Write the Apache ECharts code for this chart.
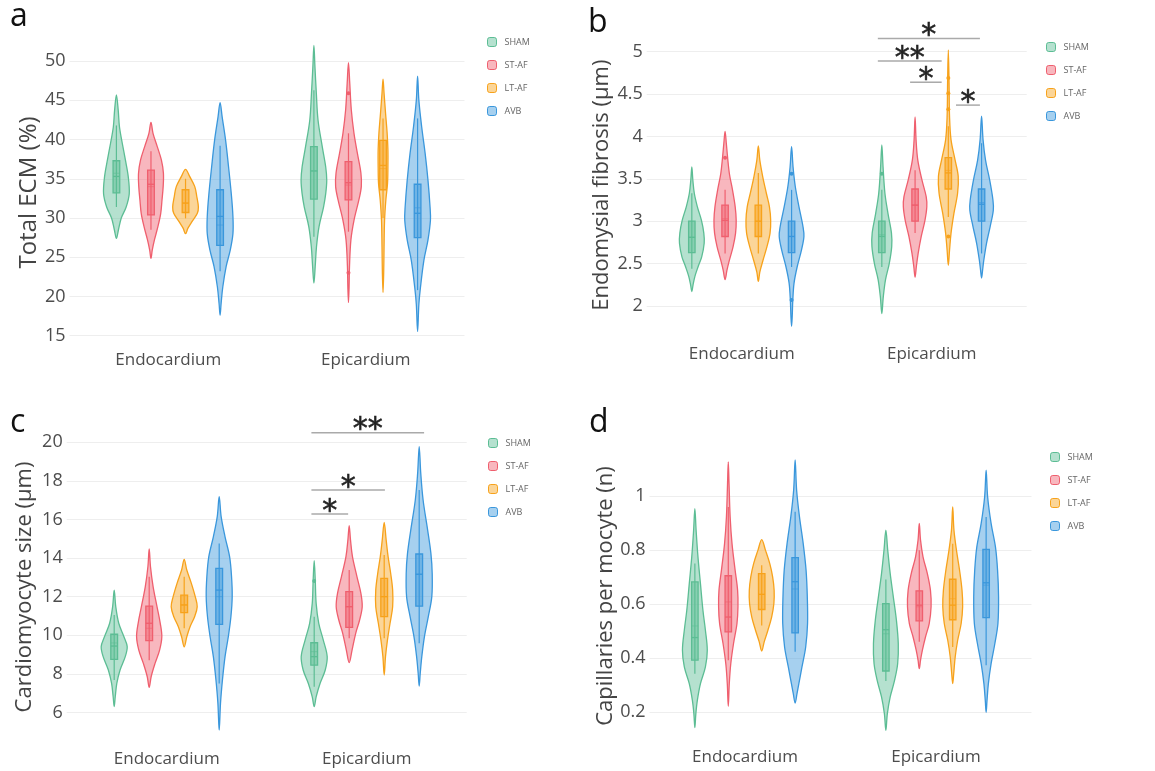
<!DOCTYPE html>
<html><head><meta charset="utf-8">
<script src="https://cdn.jsdelivr.net/npm/echarts@6/dist/echarts.min.js"></script>
<style>html,body{margin:0;padding:0;background:#fff}#chart{width:1155px;height:771px}</style>
</head><body><div id="chart"></div>
<script>
// ---------------- DATA ----------------
const categories = ['Endocardium', 'Epicardium'];
const groups = ['SHAM', 'ST-AF', 'LT-AF', 'AVB'];
const yTitles = ['Total ECM (%)', 'Endomysial fibrosis (µm)', 'Cardiomyocyte size (µm)', 'Capillaries per mocyte (n)'];
const panelLetters = ['a', 'b', 'c', 'd'];

// Violin outlines: [group][category] -> list of [value, relative density]
const ecmShape = [
  [[[45.7,0],[43.75,0.14],[41.6,0.24],[39.5,0.46],[37.4,0.7],[35.3,0.92],[33.1,1.0],[31.4,0.76],[30.0,0.38],[28.5,0.16],[27.4,0]],
   [[52.0,0],[49.3,0.08],[45.9,0.19],[42.5,0.32],[39.1,0.65],[36.5,0.92],[34.8,1.0],[33.1,0.92],[31.4,0.75],[28.9,0.4],[26.3,0.2],[23.8,0.1],[21.7,0]]],
  [[[42.2,0],[40.8,0.16],[39.1,0.49],[37.4,0.81],[35.7,0.97],[34.0,0.95],[32.3,0.86],[30.6,0.76],[28.9,0.54],[27.2,0.27],[25.9,0.1],[24.85,0]],
   [[49.8,0],[47.2,0.1],[43.8,0.22],[40.8,0.43],[38.2,0.7],[35.7,0.97],[34.0,1.0],[32.3,0.81],[29.7,0.43],[27.2,0.19],[23.8,0.08],[21.3,0.05],[19.2,0]]],
  [[[36.2,0],[35.3,0.32],[34.0,0.72],[32.7,0.88],[31.4,1.0],[30.6,0.92],[29.5,0.49],[28.7,0.19],[28.0,0]],
   [[47.7,0],[45.9,0.08],[43.3,0.2],[40.8,0.32],[38.7,0.38],[36.5,0.38],[34.4,0.35],[32.3,0.22],[29.7,0.12],[26.3,0.08],[22.9,0.05],[20.5,0]]],
  [[[44.7,0],[42.9,0.16],[39.9,0.43],[36.5,0.66],[33.1,0.87],[30.2,1.0],[28.0,1.0],[25.9,0.79],[23.8,0.47],[21.2,0.21],[19.1,0.08],[17.6,0]],
   [[48.1,0],[45.0,0.1],[41.6,0.32],[38.2,0.59],[34.8,0.81],[31.4,0.97],[29.7,1.0],[27.2,0.81],[24.6,0.49],[21.1,0.22],[19.0,0.1],[15.5,0]]]
];
// Box stats: [lower whisker, q1, median, q3, upper whisker, mean]
const ecmBox = [
  [[31.4,33.2,35.3,37.3,41.8,35.7],[27.6,32.4,36.0,39.1,46.3,36.0]],
  [[28.5,30.4,34.3,36.1,38.5,34.0],[28.25,32.3,34.5,37.2,40.8,34.2]],
  [[29.95,30.7,31.9,33.6,35.0,31.9],[30.0,33.6,36.7,39.9,42.7,36.3]],
  [[23.2,26.5,30.2,33.6,39.2,29.1],[20.8,27.5,30.6,34.3,42.7,31.3]]
];
const ecmOutliers = [[[],[]],[[],[45.9,23.0]],[[],[]],[[],[]]];

const fibrosisShape = [
  [[[3.64,0],[3.49,0.08],[3.33,0.2],[3.17,0.45],[3.01,0.78],[2.86,0.97],[2.74,1.0],[2.58,0.8],[2.46,0.5],[2.35,0.25],[2.25,0.1],[2.17,0]],
   [[3.90,0],[3.64,0.1],[3.33,0.25],[3.09,0.5],[2.86,0.78],[2.70,0.8],[2.50,0.6],[2.31,0.3],[2.11,0.12],[1.91,0]]],
  [[[4.06,0],[3.92,0.1],[3.76,0.2],[3.56,0.35],[3.37,0.6],[3.17,0.82],[3.01,0.9],[2.86,0.85],[2.70,0.65],[2.54,0.35],[2.42,0.15],[2.31,0]],
   [[4.23,0],[3.96,0.08],[3.72,0.22],[3.49,0.55],[3.29,0.9],[3.17,0.95],[3.01,0.8],[2.82,0.5],[2.62,0.25],[2.46,0.1],[2.34,0]]],
  [[[3.89,0],[3.72,0.12],[3.53,0.35],[3.33,0.65],[3.17,0.9],[3.01,1.0],[2.86,0.95],[2.70,0.7],[2.54,0.38],[2.40,0.12],[2.29,0]],
   [[5.02,0],[4.63,0.06],[4.23,0.1],[3.96,0.22],[3.72,0.55],[3.53,0.8],[3.33,0.75],[3.09,0.45],[2.86,0.22],[2.66,0.1],[2.48,0]]],
  [[[3.88,0],[3.64,0.12],[3.41,0.3],[3.17,0.6],[2.94,0.92],[2.82,1.0],[2.66,0.8],[2.46,0.45],[2.27,0.2],[2.07,0.1],[1.87,0.05],[1.76,0]],
   [[4.24,0],[3.96,0.12],[3.72,0.32],[3.49,0.65],[3.25,0.92],[3.13,0.95],[2.94,0.7],[2.74,0.4],[2.54,0.18],[2.42,0.08],[2.33,0]]]
];
const fibrosisBox = [
  [[2.44,2.63,2.81,3.0,3.33,2.81],[2.46,2.63,2.82,3.0,3.37,2.84]],
  [[2.62,2.82,3.01,3.19,3.37,3.03],[2.86,3.0,3.19,3.38,3.6,3.19]],
  [[2.62,2.82,3.0,3.19,3.57,3.0],[3.05,3.38,3.57,3.75,4.12,3.6]],
  [[2.46,2.63,2.82,3.0,3.37,2.82],[2.62,3.0,3.2,3.38,3.92,3.22]]
];
const fibrosisOutliers = [[[],[3.56]],[[3.75],[]],[[],[4.69,4.51,4.32,2.82]],[[3.56,2.07],[]]];
// significance brackets (Epicardium): [from group, to group, y value, label]
const fibrosisSig = [[-0.12,2.95,5.157,'*'],[-0.12,1.8,4.89,'**'],[0.85,1.8,4.64,'*'],[2.23,2.95,4.37,'*']];

const sizeShape = [
  [[[12.34,0],[11.48,0.12],[10.62,0.35],[9.92,0.75],[9.41,1.0],[8.89,0.85],[8.2,0.45],[7.5,0.2],[6.81,0.08],[6.3,0]],
   [[13.86,0],[12.86,0.08],[11.65,0.15],[10.62,0.35],[9.75,0.7],[8.89,1.0],[8.2,0.85],[7.5,0.45],[6.81,0.15],[6.3,0]]],
  [[[14.47,0],[13.55,0.1],[12.52,0.3],[11.48,0.6],[10.62,0.85],[9.92,0.97],[9.23,0.8],[8.54,0.45],[7.85,0.15],[7.3,0]],
   [[15.68,0],[14.94,0.1],[14.07,0.25],[13.03,0.6],[12.17,0.9],[11.48,1.0],[10.79,0.8],[10.1,0.5],[9.23,0.22],[8.58,0]]],
  [[[13.93,0],[13.38,0.2],[12.69,0.55],[12.0,0.85],[11.48,1.0],[10.96,0.8],[10.44,0.45],[9.92,0.2],[9.4,0]],
   [[15.85,0],[14.94,0.15],[14.07,0.3],[13.2,0.5],[12.34,0.65],[11.48,0.65],[10.62,0.45],[9.75,0.25],[8.89,0.1],[7.94,0]]],
  [[[17.18,0],[16.15,0.15],[15.1,0.45],[14.07,0.8],[13.03,0.95],[12.0,1.0],[10.96,0.9],[9.92,0.7],[8.89,0.45],[7.68,0.25],[6.47,0.1],[5.08,0]],
   [[19.78,0],[18.39,0.12],[17.01,0.3],[15.45,0.65],[14.24,0.9],[13.2,1.0],[12.0,0.97],[10.96,0.7],[9.92,0.4],[8.89,0.2],[8.03,0.08],[7.37,0]]]
];
const sizeBox = [
  [[7.68,8.75,9.44,10.05,11.05,9.6],[7.33,8.45,8.89,9.61,10.96,9.15]],
  [[8.71,9.72,10.62,11.51,13.03,10.36],[9.84,10.41,11.48,12.26,13.38,11.48]],
  [[10.36,11.17,11.57,12.08,13.03,11.57],[9.84,10.96,12.0,12.95,14.16,12.0]],
  [[7.5,10.56,12.34,13.47,14.76,12.0],[9.58,11.51,13.16,14.21,17.53,13.16]]
];
const sizeOutliers = [[[],[12.81]],[[],[]],[[],[]],[[],[]]];
const sizeSig = [[-0.08,3.14,20.5,'**'],[-0.08,2.02,17.53,'*'],[-0.08,0.97,16.28,'*']];

const capShape = [
  [[[0.954,0],[0.874,0.1],[0.775,0.25],[0.676,0.45],[0.577,0.65],[0.503,0.85],[0.429,1.0],[0.367,0.85],[0.305,0.45],[0.243,0.2],[0.194,0.08],[0.142,0]],
   [[0.874,0],[0.8,0.15],[0.713,0.35],[0.627,0.6],[0.54,0.85],[0.453,1.0],[0.379,0.95],[0.317,0.7],[0.256,0.35],[0.194,0.12],[0.132,0]]],
  [[[1.127,0],[1.047,0.06],[0.923,0.15],[0.824,0.3],[0.726,0.55],[0.651,0.75],[0.59,0.78],[0.528,0.7],[0.453,0.42],[0.379,0.2],[0.305,0.08],[0.221,0]],
   [[0.899,0],[0.837,0.1],[0.775,0.3],[0.713,0.65],[0.651,0.9],[0.59,0.95],[0.528,0.8],[0.478,0.5],[0.429,0.25],[0.392,0.1],[0.361,0]]],
  [[[0.839,0],[0.8,0.3],[0.75,0.65],[0.701,0.88],[0.651,1.0],[0.602,0.98],[0.552,0.8],[0.503,0.5],[0.46,0.2],[0.426,0]],
   [[0.96,0],[0.874,0.1],[0.8,0.3],[0.726,0.55],[0.651,0.75],[0.59,0.8],[0.528,0.68],[0.466,0.4],[0.404,0.2],[0.342,0.08],[0.305,0]]],
  [[[1.134,0],[1.022,0.12],[0.923,0.35],[0.824,0.65],[0.726,0.88],[0.627,0.98],[0.528,1.0],[0.441,0.85],[0.367,0.55],[0.305,0.3],[0.268,0.15],[0.233,0]],
   [[1.096,0],[0.998,0.12],[0.899,0.4],[0.812,0.75],[0.726,0.92],[0.627,1.0],[0.528,0.95],[0.453,0.7],[0.379,0.4],[0.305,0.18],[0.243,0.07],[0.199,0]]]
];
const capBox = [
  [[0.342,0.392,0.476,0.682,0.75,0.519],[0.315,0.352,0.505,0.602,0.691,0.49]],
  [[0.392,0.497,0.552,0.705,0.96,0.608],[0.46,0.538,0.596,0.649,0.8,0.59]],
  [[0.521,0.58,0.636,0.713,0.744,0.636],[0.441,0.542,0.596,0.692,0.824,0.62]],
  [[0.423,0.493,0.683,0.772,0.942,0.656],[0.373,0.55,0.679,0.803,0.923,0.67]]
];
const capOutliers = [[[],[]],[[],[]],[[],[]],[[],[]]];

// ---------------- STYLE / LAYOUT ----------------
const colors = ['#5cbd94', '#ef5f6e', '#f7a21b', '#3a97dc'];
const rgba = (hex, a) => { const n = parseInt(hex.slice(1), 16); return `rgba(${n>>16},${(n>>8)&255},${n&255},${a})`; };
const fills = colors.map(c => rgba(c, 0.45));
const boxFills = colors.map(c => rgba(c, 0.5));
const SLOT = 0.175, HALF = 0.065;
const FONT = 'Open Sans';

const panels = [
  {shape: ecmShape, box: ecmBox, out: ecmOutliers, sig: null},
  {shape: fibrosisShape, box: fibrosisBox, out: fibrosisOutliers, sig: fibrosisSig},
  {shape: sizeShape, box: sizeBox, out: sizeOutliers, sig: sizeSig},
  {shape: capShape, box: capBox, out: capOutliers, sig: null}
];
const layout = [
  {grid:{left:69.5, top:40, width:395, height:305}, y:[13.8,52.7], step:5, nameGap:28, nameSize:24, catMargin:7, legend:{left:487, top:37}, title:{left:10, top:1}},
  {grid:{left:646.7, top:39, width:380, height:292.4}, y:[1.7,5.15], step:0.5, nameGap:34, nameSize:22, catMargin:14, legend:{left:1046, top:42}, title:{left:588, top:7}},
  {grid:{left:66.7, top:436.5, width:400, height:301}, y:[4.7,20.3], step:2, nameGap:31, nameSize:22, catMargin:13, legend:{left:488, top:438}, title:{left:10, top:407}},
  {grid:{left:649.5, top:453, width:382, height:286}, y:[0.1,1.16], step:0.2, nameGap:32, nameSize:22, catMargin:10, legend:{left:1050, top:452}, title:{left:589, top:407}}
];
const isStep = (v, s) => Math.abs(v / s - Math.round(v / s)) < 1e-6;

function makeViolin(p, gi) {
  const P = panels[p];
  return {
    type: 'custom', name: groups[gi], xAxisIndex: p, yAxisIndex: p, z: 2, silent: true,
    itemStyle: {color: fills[gi], borderColor: colors[gi], borderWidth: 1},
    data: categories.map((c, ci) => [ci, P.box[gi][ci][2]]),
    renderItem: function (params, api) {
      const ci = api.value(0);
      const band = api.size([1, 0])[0];
      const cx = api.coord([ci, P.box[gi][ci][2]])[0] + (gi - 1.5) * SLOT * band;
      const hw = HALF * band, bw = hw * 0.26;
      const Y = v => api.coord([ci, v])[1];
      const shp = P.shape[gi][ci];
      const pts = [];
      shp.forEach(([v, w]) => pts.push([cx + w * hw, Y(v)]));
      for (let i = shp.length - 2; i >= 1; i--) pts.push([cx - shp[i][1] * hw, Y(shp[i][0])]);
      const [lw, q1, md, q3, uw, mn] = P.box[gi][ci];
      const children = [
        {type: 'polygon', shape: {points: pts, smooth: 0.35}, style: {fill: fills[gi], stroke: colors[gi], lineWidth: 1.3}},
        {type: 'line', shape: {x1: cx, y1: Y(uw), x2: cx, y2: Y(lw)}, style: {stroke: colors[gi], lineWidth: 1.2}},
        {type: 'rect', shape: {x: cx - bw, y: Y(q3), width: 2 * bw, height: Y(q1) - Y(q3)}, style: {fill: boxFills[gi], stroke: colors[gi], lineWidth: 1.3}},
        {type: 'line', shape: {x1: cx - bw, y1: Y(md), x2: cx + bw, y2: Y(md)}, style: {stroke: colors[gi], lineWidth: 1.3}},
        {type: 'line', shape: {x1: cx - bw, y1: Y(mn), x2: cx + bw, y2: Y(mn)}, style: {stroke: colors[gi], lineWidth: 0.8, opacity: 0.7}}
      ];
      P.out[gi][ci].forEach(v => children.push({type: 'circle', shape: {cx: cx, cy: Y(v), r: 2}, style: {fill: colors[gi]}}));
      return {type: 'group', children: children};
    }
  };
}
function makeSig(p, sig) {
  return {
    type: 'custom', xAxisIndex: p, yAxisIndex: p, z: 5, silent: true,
    data: sig.map(s => [1, s[2]]),
    renderItem: function (params, api) {
      const s = sig[params.dataIndex];
      const band = api.size([1, 0])[0];
      const c0 = api.coord([1, s[2]]);
      const X = g => c0[0] + (g - 1.5) * SLOT * band;
      const y = c0[1];
      return {type: 'group', children: [
        {type: 'line', shape: {x1: X(s[0]), y1: y, x2: X(s[1]), y2: y}, style: {stroke: '#aaaaaa', lineWidth: 1.5}},
        {type: 'text', x: (X(s[0]) + X(s[1])) / 2, y: y - 2, style: {text: s[3], fontSize: 30, fontFamily: 'DejaVu Sans', fill: '#222', stroke: '#222', lineWidth: 0.6, align: 'center', verticalAlign: 'middle'}}
      ]};
    }
  };
}

const series = [];
panels.forEach((P, p) => {
  groups.forEach((g, gi) => series.push(makeViolin(p, gi)));
  if (P.sig) series.push(makeSig(p, P.sig));
});

const option = {
  animation: false,
  backgroundColor: '#fff',
  title: layout.map((L, p) => ({text: panelLetters[p], left: L.title.left, top: L.title.top, padding: 0,
    textStyle: {fontSize: 32, fontWeight: 'normal', color: '#111', fontFamily: FONT}})),
  legend: layout.map(L => ({
    orient: 'vertical', left: L.legend.left, top: L.legend.top, itemWidth: 9, itemHeight: 9, itemGap: 13,
    icon: 'roundRect', selectedMode: false, padding: 0,
    textStyle: {fontSize: 9, color: '#666', fontFamily: FONT, padding: [0, 0, 0, 3]},
    data: groups.map((g, gi) => ({name: g, itemStyle: {color: fills[gi], borderColor: colors[gi], borderWidth: 1}}))
  })),
  grid: layout.map(L => Object.assign({containLabel: false}, L.grid)),
  xAxis: layout.map((L, p) => ({
    type: 'category', gridIndex: p, data: categories,
    axisLine: {show: false}, axisTick: {show: false}, splitLine: {show: false},
    axisLabel: {fontSize: 17, color: '#4d4d4d', margin: L.catMargin, fontFamily: FONT}
  })),
  yAxis: layout.map((L, p) => ({
    type: 'value', gridIndex: p, min: L.y[0], max: L.y[1], minInterval: L.step, maxInterval: L.step,
    splitNumber: Math.round((L.y[1] - L.y[0]) / L.step),
    name: yTitles[p], nameLocation: 'middle', nameGap: L.nameGap, nameRotate: 90,
    nameTextStyle: {fontSize: L.nameSize, color: '#444', fontFamily: FONT},
    axisLine: {show: false}, axisTick: {show: false},
    axisLabel: {fontSize: 18, color: '#4d4d4d', margin: 4, fontFamily: FONT, showMinLabel: false, showMaxLabel: false,
      formatter: v => isStep(v, L.step) ? String(+v.toFixed(2)) : ''},
    splitLine: {lineStyle: {color: '#eeeeee', width: 1}, showMinLine: false, showMaxLine: false}
  })),
  series: series
};
const chart = echarts.init(document.getElementById('chart'), null, {renderer: 'canvas'});
chart.setOption(option);
</script></body></html>
